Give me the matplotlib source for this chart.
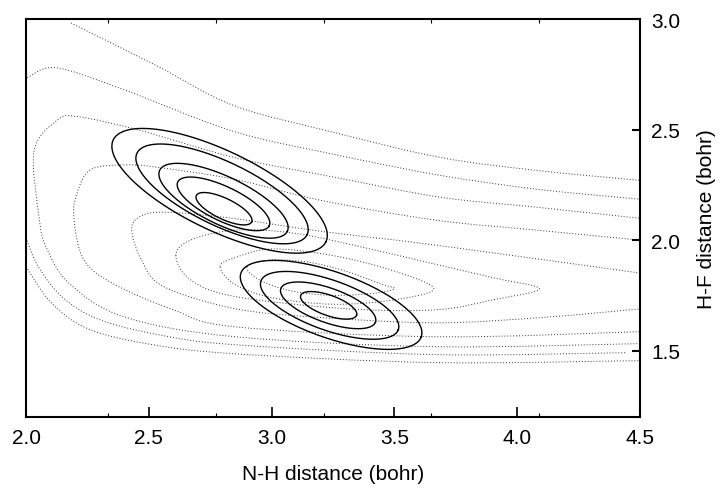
import numpy as np
import matplotlib.pyplot as plt
from matplotlib.path import Path
from matplotlib.patches import PathPatch

# axis ticks (bohr)
x_major = [2.0, 2.5, 3.0, 3.5, 4.0, 4.5]
x_minor = [2.334, 2.774, 3.213, 3.649, 4.089]
y_major = [1.5, 2.0, 2.5, 3.0]

# dotted potential-energy contours (N-H, H-F)
c1_x = [2.90, 3.00, 3.15, 3.30, 3.45, 3.50, 3.42, 3.25, 3.08, 2.95]
c1_y = [1.88, 1.91, 1.90, 1.86, 1.80, 1.78, 1.76, 1.75, 1.77, 1.82]
c2_x = [2.79, 2.85, 3.00, 3.25, 3.50, 3.66, 3.50, 3.25, 3.00, 2.85]
c2_y = [1.88, 1.92, 1.96, 1.93, 1.86, 1.78, 1.73, 1.71, 1.74, 1.80]
c3_x = [2.61, 2.67, 2.85, 3.10, 3.40, 3.67, 3.90, 4.09, 3.90, 3.67, 3.30, 2.85, 2.67]
c3_y = [1.93, 2.00, 2.045, 2.03, 1.96, 1.89, 1.83, 1.78, 1.73, 1.685, 1.69, 1.745, 1.82]
c4_x = [4.50, 3.67, 3.20, 2.83, 2.57, 2.47, 2.43, 2.47, 2.56, 2.85, 3.20, 3.67, 4.10, 4.50]
c4_y = [1.851, 1.977, 2.04, 2.10, 2.126, 2.11, 2.05, 1.91, 1.79, 1.69, 1.65, 1.626, 1.65, 1.689]
c5_x = [4.50, 4.08, 3.67, 3.20, 2.85, 2.53, 2.40, 2.265, 2.21, 2.195, 2.236, 2.36, 2.60, 2.85, 3.67, 4.50]
c5_y = [2.00, 2.045, 2.09, 2.18, 2.275, 2.33, 2.34, 2.32, 2.22, 2.10, 1.91, 1.80, 1.685, 1.608, 1.563, 1.586]
c6_x = [4.496, 4.077, 3.686, 3.258, 2.847, 2.468, 2.208, 2.126, 2.033, 2.053, 2.085, 2.18, 2.40, 2.85, 3.67, 4.50]
c6_y = [2.099, 2.149, 2.194, 2.284, 2.374, 2.495, 2.559, 2.541, 2.405, 2.104, 1.96, 1.80, 1.653, 1.563, 1.518, 1.532]
c7a_x = [2.00, 2.012, 2.126, 2.399, 2.847, 3.258, 3.686, 4.081, 4.50]
c7a_y = [2.725, 2.739, 2.779, 2.680, 2.491, 2.387, 2.293, 2.230, 2.185]
c7b_x = [2.00, 2.05, 2.15, 2.30, 2.55, 2.85, 3.67, 4.44]
c7b_y = [2.01, 1.88, 1.74, 1.64, 1.57, 1.527, 1.482, 1.491]
c8a_x = [2.183, 2.533, 2.847, 3.258, 3.686, 4.081, 4.50]
c8a_y = [2.982, 2.788, 2.608, 2.486, 2.374, 2.315, 2.270]
c8b_x = [2.00, 2.10, 2.25, 2.50, 2.85, 3.67, 4.50]
c8b_y = [1.88, 1.72, 1.60, 1.53, 1.486, 1.446, 1.455]

closed_curves = [(c1_x, c1_y), (c2_x, c2_y), (c3_x, c3_y)]
open_curves = [(c4_x, c4_y), (c5_x, c5_y), (c6_x, c6_y), (c7a_x, c7a_y),
               (c7b_x, c7b_y), (c8a_x, c8a_y), (c8b_x, c8b_y)]

# solid wavefunction contours: centre of each ring and its size relative to the outer ring
upper_cx = [2.788, 2.798, 2.804, 2.804, 2.806]
upper_cy = [2.223, 2.209, 2.178, 2.164, 2.142]
upper_scale = [1.0, 0.80, 0.60, 0.43, 0.26]
upper_major = (0.4328, -0.2306)   # half-axis vectors of the outer ring
upper_minor = (0.0707, 0.1625)

lower_cx = [3.242, 3.236, 3.230, 3.232]
lower_cy = [1.707, 1.705, 1.705, 1.705]
lower_scale = [1.0, 0.762, 0.525, 0.31]
lower_major = (0.367, -0.1446)
lower_minor = (0.0451, 0.140)

font = ['Liberation Sans', 'DejaVu Sans']


def smooth_path(xs, ys, closed=False):
    # Catmull-Rom through the read points, drawn as cubic Bezier segments
    p = np.column_stack([xs, ys]).astype(float)
    n = len(p)
    if closed:
        idx = lambda i: p[i % n]
        segs = n
    else:
        idx = lambda i: p[min(max(i, 0), n - 1)]
        segs = n - 1
    verts = [p[0]]
    codes = [Path.MOVETO]
    for i in range(segs):
        p0, p1, p2, p3 = idx(i - 1), idx(i), idx(i + 1), idx(i + 2)
        verts += [p1 + (p2 - p0) / 6, p2 - (p3 - p1) / 6, p2]
        codes += [Path.CURVE4] * 3
    return Path(verts, codes)


fig = plt.figure(figsize=(7.25, 4.89), dpi=100)
ax = fig.add_axes([0.0359, 0.1452, 0.847, 0.8139])

for xs, ys in closed_curves:
    ax.add_patch(PathPatch(smooth_path(xs, ys, closed=True), fill=False,
                           edgecolor='#333333', lw=0.7, ls=(0, (1, 2))))
for xs, ys in open_curves:
    ax.add_patch(PathPatch(smooth_path(xs, ys), fill=False,
                           edgecolor='#333333', lw=0.7, ls=(0, (1, 2))))

t = np.linspace(0, 2 * np.pi, 200)
for cxs, cys, scales, maj, mnr in [(upper_cx, upper_cy, upper_scale, upper_major, upper_minor),
                                   (lower_cx, lower_cy, lower_scale, lower_major, lower_minor)]:
    for cx, cy, s in zip(cxs, cys, scales):
        ex = cx + s * (maj[0] * np.cos(t) + mnr[0] * np.sin(t))
        ey = cy + s * (maj[1] * np.cos(t) + mnr[1] * np.sin(t))
        ax.plot(ex, ey, color='black', lw=1.0)

ax.set_xlim(2.0, 4.5)
ax.set_ylim(1.2, 3.0)
ax.set_xticks(x_major)
ax.set_xticks(x_minor, minor=True)
ax.set_yticks(y_major)
ax.yaxis.tick_right()
ax.yaxis.set_label_position('right')
ax.tick_params(axis='x', which='major', direction='in', length=7, width=1.2, pad=8,
               labelsize=15, top=False)
ax.tick_params(axis='x', which='minor', direction='in', length=3, width=0.8, top=True, bottom=True)
ax.tick_params(axis='y', which='major', direction='in', length=6, width=1.5, pad=8,
               labelsize=15, left=False, right=True)
for lab in ax.get_xticklabels() + ax.get_yticklabels():
    lab.set_family(font)
for side in ax.spines.values():
    side.set_linewidth(1.5)

ax.set_xlabel('N-H distance (bohr)', fontsize=15, family=font, labelpad=12)
ax.set_ylabel('H-F distance (bohr)', fontsize=15, family=font, labelpad=12)

fig.savefig('out.png', dpi=100)
